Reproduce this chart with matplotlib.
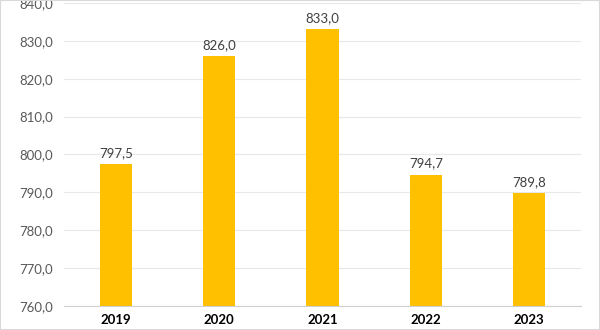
import matplotlib
matplotlib.use("Agg")
import matplotlib.pyplot as plt
from matplotlib.ticker import FuncFormatter

years = ["2019", "2020", "2021", "2022", "2023"]
values = [797.5, 826.0, 833.0, 794.7, 789.8]

plt.rcParams["font.family"] = ["Lato", "DejaVu Sans"]

fig = plt.figure(figsize=(6, 3.3), dpi=100)
ax = fig.add_axes([0.107, 0.073, 0.861, 0.918])

x = range(len(years))
bars = ax.bar(x, values, width=0.31, color="#FFC000", zorder=2)

for xi, v in zip(x, values):
    ax.text(xi, v + 1.3, f"{v:.1f}".replace(".", ","), ha="center", va="bottom",
            fontsize=9.5, color="#404040")

ax.set_xlim(-0.5, len(years) - 0.5)
ax.set_ylim(760, 840)
ax.set_yticks(range(760, 841, 10))
ax.yaxis.set_major_formatter(FuncFormatter(lambda v, p: f"{v:.1f}".replace(".", ",")))
ax.set_xticks(list(x))
ax.set_xticklabels(years, fontweight="bold", fontsize=9.5, color="#000000")
ax.tick_params(axis="y", length=0, labelsize=9.5, labelcolor="#595959", pad=8)
ax.tick_params(axis="x", length=0, pad=6)
ax.grid(axis="y", color="#E8E8E8", linewidth=0.8, zorder=0)
for s in ["top", "right", "left"]:
    ax.spines[s].set_visible(False)
ax.spines["bottom"].set_color("#D0D0D0")

fig.patches.append(plt.Rectangle((0, 0), 1, 1, transform=fig.transFigure, fill=False,
                                 edgecolor="#D9D9D9", linewidth=1.5))

fig.savefig("out.png", dpi=100)
